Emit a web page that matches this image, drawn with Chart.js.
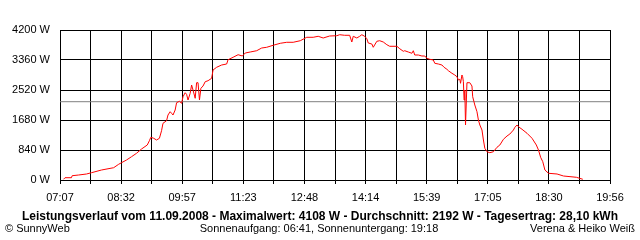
<!DOCTYPE html>
<html>
<head>
<meta charset="utf-8">
<script src="https://cdn.jsdelivr.net/npm/chart.js@4/dist/chart.umd.min.js"></script>
<style>
  html, body { margin: 0; padding: 0; background: #fff; }
  canvas { display: block; }
</style>
</head>
<body>
<canvas id="chart" width="640" height="240"></canvas>
<script>
// ── Data ───────────────────────────────────────────────────────────────────
// Time of day in minutes since midnight, power in W
const minutes = [
  432, 434, 443, 444, 453, 464, 471, 485, 502, 509, 513, 520, 527, 534, 541,
  549, 552, 554, 558, 562, 566, 569, 571, 576, 578, 581, 583, 585, 588, 590,
  594, 597, 599, 602, 604, 606, 609, 611, 613, 616, 618, 620, 622, 624, 627,
  630, 634, 639, 641, 646, 653, 660, 662, 669, 676, 682, 686, 693, 702, 709,
  716, 725, 735, 744, 753, 763, 772, 781, 788, 795, 804, 814, 818, 825, 832,
  835, 837, 842, 846, 849, 853, 856, 858, 863, 865, 870, 874, 879, 884, 888,
  898, 902, 907, 909, 914, 919, 921, 923, 928, 933, 937, 940, 944, 949, 951,
  956, 961, 964, 968, 970, 975, 979, 982, 984, 986, 987, 989, 990, 991, 992,
  993, 994, 996, 1000, 1003, 1004, 1007, 1010, 1012, 1014, 1017, 1019, 1021, 1024, 1028,
  1033, 1038, 1042, 1047, 1052, 1056, 1061, 1063, 1066, 1068, 1073, 1080, 1087, 1093, 1096,
  1099, 1102, 1105, 1110, 1122, 1131, 1149, 1158
];
const power = [
  20, 64, 64, 120, 140, 168, 204, 280, 344, 440, 484, 560, 652, 748, 868,
  980, 1100, 1196, 1168, 1120, 1168, 1380, 1588, 1660, 1820, 1912, 1868, 1820, 1960, 2164,
  2204, 2148, 2332, 2444, 2400, 2240, 2428, 2660, 2520, 2288, 2724, 2724, 2240, 2568, 2632,
  2752, 2780, 2848, 3080, 3156, 3220, 3248, 3368, 3436, 3508, 3472, 3556, 3584, 3620, 3696,
  3716, 3772, 3828, 3856, 3856, 3900, 3996, 3996, 4024, 3976, 4032, 4040, 4068, 4052, 4052,
  3864, 4024, 3976, 4024, 4068, 4024, 3956, 3836, 3808, 3716, 3884, 3900, 3864, 3788, 3744,
  3744, 3676, 3604, 3620, 3584, 3548, 3620, 3500, 3500, 3472, 3472, 3408, 3380, 3360, 3268,
  3248, 3220, 3156, 3100, 3060, 2988, 2940, 2892, 2800, 2820, 2708, 2940, 2892, 2752, 2240,
  2520, 1540, 2724, 2724, 2632, 2332, 2100, 1912, 1680, 1540, 1400, 1120, 888, 792, 764,
  792, 916, 980, 1140, 1232, 1288, 1400, 1476, 1540, 1492, 1420, 1308, 1168, 980, 840,
  636, 512, 280, 188, 168, 112, 76, 20
];

const averageW   = 2192;
const dayStart   = 427;   // 07:07
const dayEnd     = 1196;  // 19:56
const xTickLabels = ['07:07', '08:32', '09:57', '11:23', '12:48', '14:14', '15:39', '17:05', '18:30', '19:56'];
const yMax  = 4200;
const yStep = 840;

const titleText  = 'Leistungsverlauf vom 11.09.2008 - Maximalwert: 4108 W - Durchschnitt: 2192 W - Tagesertrag: 28,10 kWh';
const footLeft   = '\u00A9 SunnyWeb';
const footCenter = 'Sonnenaufgang: 06:41, Sonnenuntergang: 19:18';
const footRight  = 'Verena & Heiko Wei\u00DF';

// ── Styling ────────────────────────────────────────────────────────────────
const FONT = '"Liberation Sans", Arial, sans-serif';
Chart.defaults.font.family = FONT;
Chart.defaults.font.size   = 11;
Chart.defaults.color       = '#000';

// Bottom captions drawn straight onto the canvas
const captions = {
  id: 'captions',
  afterDraw(chart) {
    const c = chart.ctx;
    c.save();
    c.fillStyle = '#000';
    c.textBaseline = 'middle';

    // bold title, squeezed to the width it has in the reference
    let size = 13;
    c.font = 'bold ' + size + 'px ' + FONT;
    while (c.measureText(titleText).width > 606 && size > 8) {
      size -= 0.25;
      c.font = 'bold ' + size + 'px ' + FONT;
    }
    c.textAlign = 'center';
    c.fillText(titleText, 320, 217);

    c.font = '11px ' + FONT;
    c.textAlign = 'left';
    c.fillText(footLeft, 5, 229);
    c.textAlign = 'center';
    c.fillText(footCenter, 319, 229);
    c.textAlign = 'right';
    c.fillText(footRight, 635, 229);
    c.restore();
  }
};

new Chart(document.getElementById('chart'), {
  type: 'line',
  data: {
    datasets: [
      {
        label: 'Leistung',
        data: minutes.map((m, i) => ({ x: m, y: power[i] })),
        borderColor: '#ff0000',
        borderWidth: 1,
        pointRadius: 0,
        tension: 0,
        fill: false,
        order: 1,
      },
      {
        label: 'Durchschnitt',
        data: [{ x: dayStart, y: averageW }, { x: dayEnd, y: averageW }],
        borderColor: '#808080',
        borderWidth: 1,
        pointRadius: 0,
        fill: false,
        order: 2,
      },
    ],
  },
  options: {
    responsive: false,
    animation: false,
    devicePixelRatio: 1,
    layout: { padding: { top: 30, right: 30, left: 0, bottom: 0 } },
    plugins: {
      legend:  { display: false },
      tooltip: { enabled: false },
    },
    scales: {
      x: {
        type: 'linear',
        min: dayStart,
        max: dayEnd,
        afterBuildTicks: s => {
          const n = (xTickLabels.length - 1) * 2;
          s.ticks = [];
          for (let i = 0; i <= n; i++) s.ticks.push({ value: dayStart + (dayEnd - dayStart) * i / n });
        },
        afterFit: s => { s.height = 60; },
        ticks: {
          autoSkip: false,
          maxRotation: 0,
          padding: 7,
          callback: (v, i) => (i % 2 === 0 ? xTickLabels[i / 2] : ''),
        },
        grid:   { color: '#000', lineWidth: 1, tickLength: 4 },
        border: { color: '#000', width: 1 },
      },
      y: {
        min: 0,
        max: yMax,
        afterFit: s => { s.width = 60; },
        ticks: {
          stepSize: yStep,
          padding: 10,
          callback: v => v + ' W',
        },
        grid:   { color: '#000', lineWidth: 1, drawTicks: false },
        border: { color: '#000', width: 1 },
      },
    },
  },
  plugins: [captions],
});
</script>
</body>
</html>
